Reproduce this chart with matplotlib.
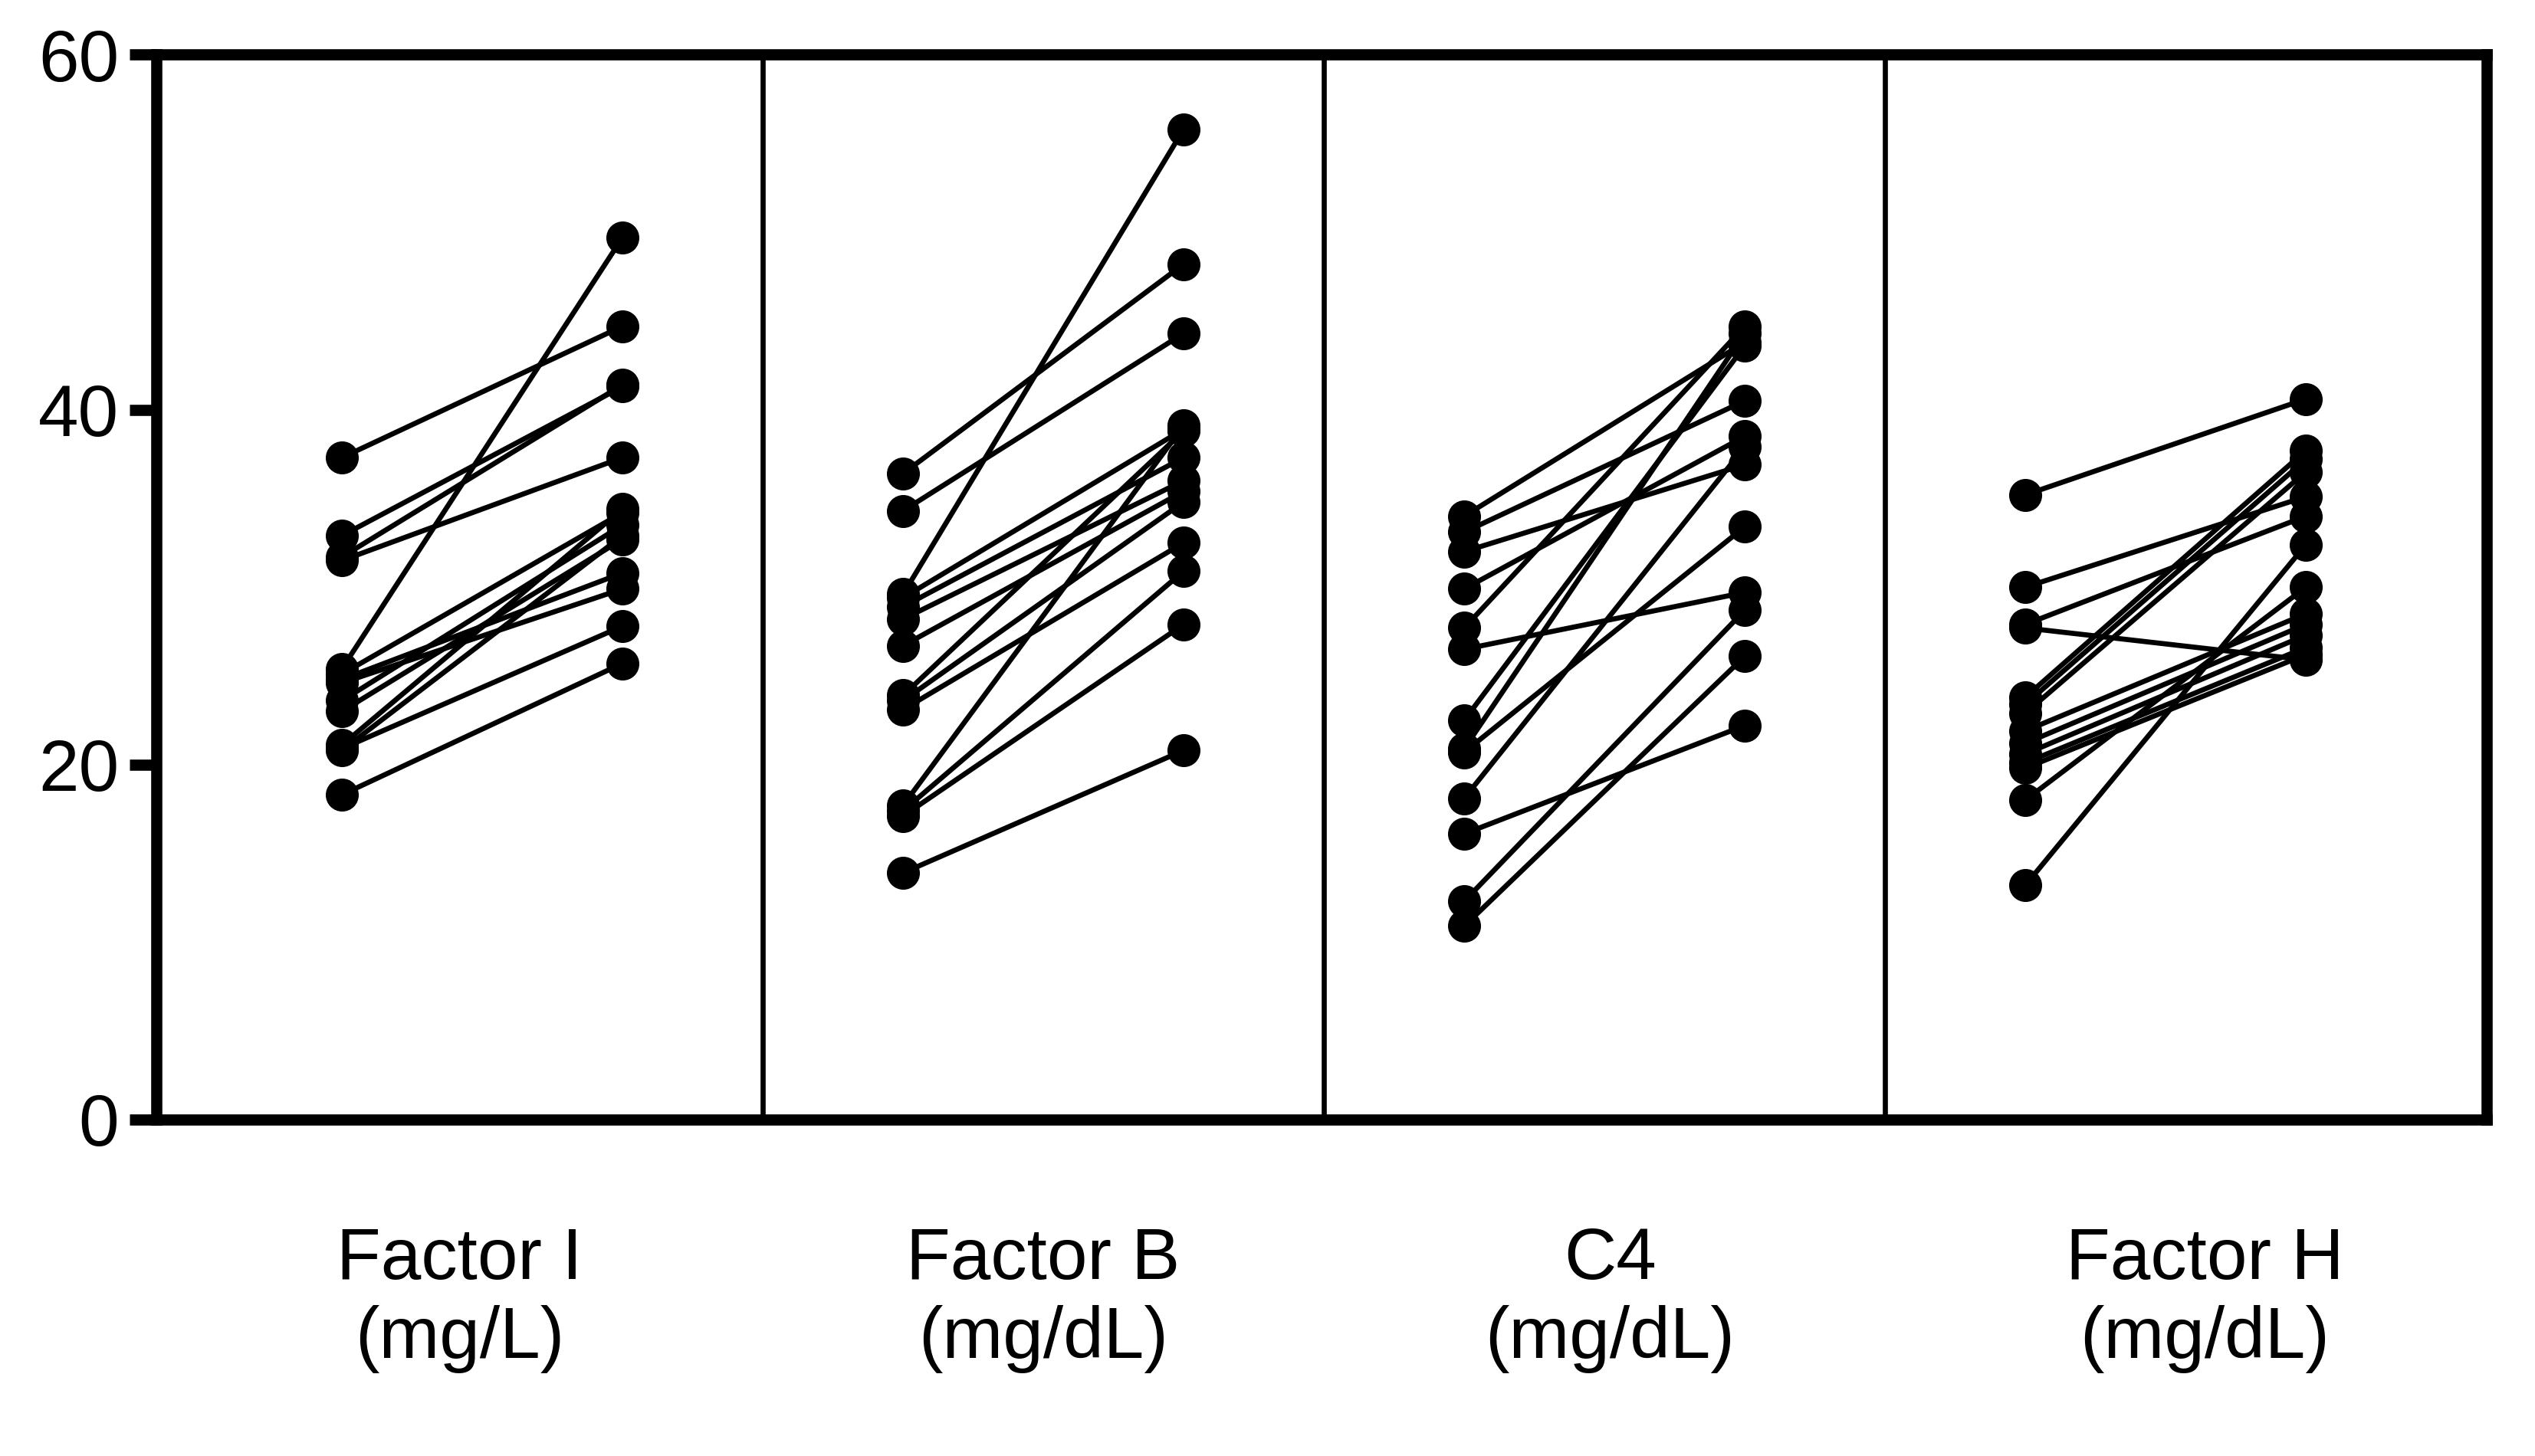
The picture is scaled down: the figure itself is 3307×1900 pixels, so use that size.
import numpy as np
import matplotlib
matplotlib.use('Agg')
import matplotlib.pyplot as plt

plt.rcParams['font.family'] = ['Liberation Sans', 'DejaVu Sans']

# paired values: before / after, one pair per subject
labels = ['Factor I\n(mg/L)', 'Factor B\n(mg/dL)', 'C4\n(mg/dL)', 'Factor H\n(mg/dL)']
label_pos = [0.46, 1.5, 2.51, 3.57]

factor_i_before = [37.3, 32.9, 31.7, 31.5, 25.4, 25.1, 24.8, 24.6, 23.6, 23.0, 21.1, 20.8, 20.9, 18.3]
factor_i_after = [44.7, 41.3, 41.4, 37.3, 49.7, 34.2, 30.8, 29.9, 33.5, 32.7, 34.4, 32.9, 27.8, 25.7]

factor_b_before = [36.4, 34.3, 29.6, 29.4, 28.9, 28.2, 26.7, 23.9, 23.6, 23.1, 17.7, 17.4, 17.1, 13.9]
factor_b_after = [48.2, 44.3, 55.8, 38.9, 37.3, 36.0, 35.4, 38.8, 34.8, 32.5, 39.1, 30.9, 27.9, 20.8]

c4_before = [34.0, 33.1, 32.0, 29.9, 27.7, 26.5, 22.5, 20.9, 20.7, 18.1, 16.1, 12.3, 10.9]
c4_after = [43.8, 40.5, 36.9, 38.5, 44.7, 29.7, 43.6, 44.3, 33.4, 37.9, 22.2, 28.7, 26.1]

factor_h_before = [35.2, 30.0, 27.9, 27.7, 23.8, 23.4, 22.9, 21.9, 21.2, 20.6, 20.1, 19.8, 18.0, 13.2]
factor_h_after = [40.6, 35.1, 34.0, 25.9, 37.7, 37.2, 36.5, 28.5, 27.9, 27.3, 26.6, 26.2, 30.0, 32.4]

groups = [
    (factor_i_before, factor_i_after),
    (factor_b_before, factor_b_after),
    (c4_before, c4_after),
    (factor_h_before, factor_h_after),
]

fig = plt.figure(figsize=(33.07, 19.0), dpi=100)
ax = fig.add_axes([0.0617, 0.2311, 0.9193, 0.7313])

for i, (before, after) in enumerate(groups):
    x0, x1 = i + 0.25, i + 0.75
    for b, a in zip(before, after):
        ax.plot([x0, x1], [b, a], color='black', lw=4.8, zorder=2,
                marker='o', markersize=31, markeredgewidth=0, solid_capstyle='butt')

# thin dividers between the four panels
for xd in [1, 2, 3]:
    ax.plot([xd, xd], [0, 60], color='black', lw=4.8, zorder=1)

ax.set_xlim(-0.0806, 4.0724)
ax.set_ylim(0, 60)
ax.set_yticks([0, 20, 40, 60])
ax.set_xticks(label_pos)
ax.set_xticklabels(labels, fontsize=68, linespacing=1.2)
ax.tick_params(axis='x', length=0, pad=100)
ax.tick_params(axis='y', length=25, width=10.5, labelsize=68, pad=10, direction='out')

for side in ['left', 'right', 'top', 'bottom']:
    ax.spines[side].set_linewidth(10.5)

fig.savefig('out.png', dpi=100, facecolor='white')
